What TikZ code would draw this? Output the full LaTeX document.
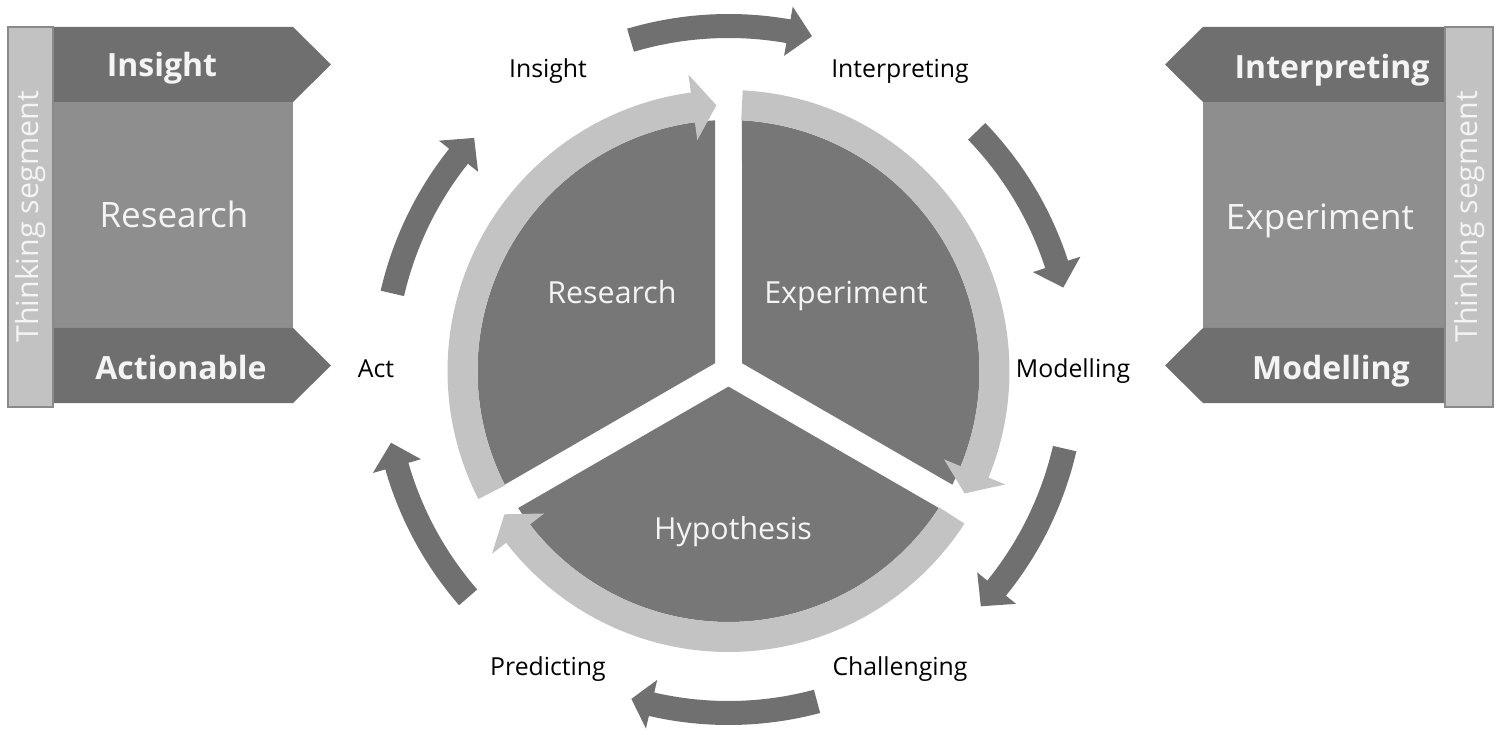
\documentclass[tikz,border=0pt]{standalone}
\usepackage{fontspec}
\setmainfont{Open Sans}
\definecolor{armgray}{HTML}{707070}
\definecolor{wedgegray}{HTML}{777777}
\definecolor{ringgray}{HTML}{C3C3C3}
\definecolor{boxgray}{HTML}{8E8E8E}
\definecolor{bandgray}{HTML}{6F6F6F}
\definecolor{bargray}{HTML}{C2C2C2}
\definecolor{barline}{HTML}{8A8A8A}
\definecolor{paletext}{HTML}{F4F4F4}
\newcommand{\cyclearrow}[7]{\fill[#7] ({#4}:{#1+#2}) arc[start angle={#4}, end angle={#5}, radius={#1+#2}] -- ({#5}:{#1+#3}) -- ({#6}:{#1}) -- ({#5}:{#1-#3}) -- ({#5}:{#1-#2}) arc[start angle={#5}, end angle={#4}, radius={#1-#2}] -- cycle;}
\newcommand{\wedgepart}[2]{\fill[wedgegray] ({(#1+#2)/2}:15.6) -- ({#1+3.08}:251) arc[start angle={#1+3.08}, end angle={#2-3.08}, radius=251] -- cycle;}
\begin{document}
\begin{tikzpicture}[x=0.5pt,y=0.5pt,
  cyclelabel/.style={font=\fontsize{12.4}{15}\selectfont,text=black,text height=0.75em,text depth=0.25em},
  wedgelabel/.style={font=\fontsize{15.2}{18}\selectfont,text=paletext,text height=0.75em,text depth=0.25em},
  boxlabel/.style={font=\fontsize{17.5}{21}\selectfont,text=paletext,text height=0.75em,text depth=0.25em},
  bandlabel/.style={font=\bfseries\fontsize{16}{19}\selectfont,text=paletext,text height=0.75em,text depth=0.25em},
  segmentlabel/.style={font=\fontsize{15.2}{18}\selectfont,text=paletext,rotate=90,text height=0.75em,text depth=0.25em}]
\useasboundingbox (0,0) rectangle (1502,734);
\fill[bandgray] (53,632) -- (293,632) -- (331,669.5) -- (293,707) -- (53,707) -- cycle;
\fill[boxgray] (53,406) rectangle (293,632);
\fill[bandgray] (53,331) -- (293,331) -- (331,368.5) -- (293,406) -- (53,406) -- cycle;
\filldraw[fill=bargray,draw=barline,line width=1pt] (8,327) rectangle (53,707);
\node[bandlabel] (leftinsight) at (162,662) {Insight};
\node[boxlabel] (leftresearch) at (174,511) {Research};
\node[bandlabel] (leftactionable) at (181,360) {Actionable};
\node[segmentlabel] (leftsegment) at (33.5,517) {Thinking segment};
\fill[bandgray] (1445,632) -- (1203,632) -- (1165,669.5) -- (1203,707) -- (1445,707) -- cycle;
\fill[boxgray] (1203,406) rectangle (1445,632);
\fill[bandgray] (1445,331) -- (1203,331) -- (1165,368.5) -- (1203,406) -- (1445,406) -- cycle;
\filldraw[fill=bargray,draw=barline,line width=1pt] (1445,327) rectangle (1493,707);
\node[bandlabel] (rightinterpreting) at (1332,660) {Interpreting};
\node[boxlabel] (rightexperiment) at (1320,509) {Experiment};
\node[bandlabel] (rightmodelling) at (1331,360) {Modelling};
\node[segmentlabel] (rightsegment) at (1472,517) {Thinking segment};
\begin{scope}[shift={(728.5,363)}]
\cyclearrow{345}{12}{25}{106.5}{80}{76}{armgray}
\cyclearrow{345}{12}{25}{44}{18}{14}{armgray}
\cyclearrow{345}{12}{25}{-13}{-39}{-43}{armgray}
\cyclearrow{342}{12}{25}{-75}{-103}{-106.5}{armgray}
\cyclearrow{345}{12}{25}{221}{196}{192}{armgray}
\cyclearrow{345}{12}{25}{167}{141.5}{137.5}{armgray}
\wedgepart{90}{210}
\wedgepart{-30}{90}
\wedgepart{210}{330}
\cyclearrow{266}{15}{33}{207.1}{97.7}{92.6}{ringgray}
\cyclearrow{266}{15}{33}{87.1}{-22.3}{-27.4}{ringgray}
\cyclearrow{266}{15}{33}{-32.9}{-142.3}{-147.4}{ringgray}
\end{scope}
\node[wedgelabel] (research) at (612,435) {Research};
\node[wedgelabel] (experiment) at (846,435) {Experiment};
\node[wedgelabel] (hypothesis) at (733,200) {Hypothesis};
\node[cyclelabel] (insight) at (548,661) {Insight};
\node[cyclelabel] (interpreting) at (900,661) {Interpreting};
\node[cyclelabel] (modelling) at (1073,362) {Modelling};
\node[cyclelabel] (act) at (376,362) {Act};
\node[cyclelabel] (predicting) at (548,64) {Predicting};
\node[cyclelabel] (challenging) at (900,64) {Challenging};
\end{tikzpicture}
\end{document}
